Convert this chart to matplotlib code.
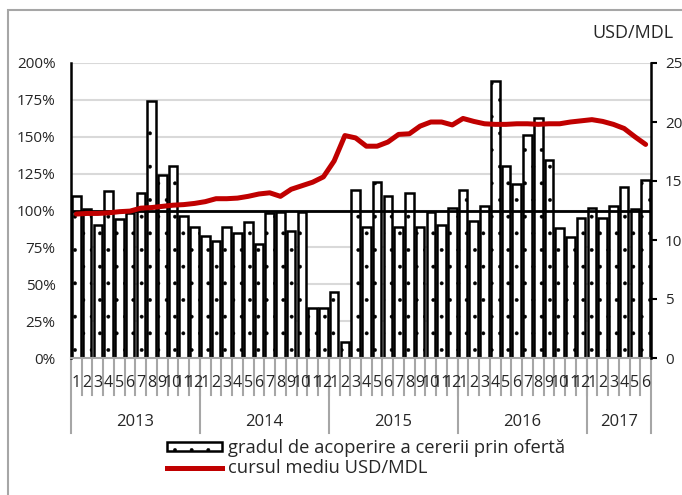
import matplotlib
matplotlib.use("Agg")
import matplotlib.pyplot as plt
from matplotlib.patches import Rectangle, Patch
from matplotlib.lines import Line2D

plt.rcParams['font.family'] = ['Open Sans', 'DejaVu Sans']
plt.rcParams['hatch.linewidth'] = 0.3

# gradul de acoperire a cererii prin oferta, % (lunar, ian 2013 - iun 2017)
coverage = [110, 101, 90, 113, 94, 98, 112, 174, 124, 130, 96, 89,
            83, 79, 89, 85, 92, 77, 98, 99, 86, 99, 34, 34,
            45, 11, 114, 89, 119, 110, 89, 112, 89, 99, 90, 102,
            114, 93, 103, 188, 130, 118, 151, 163, 134, 88, 82, 95,
            102, 95, 103, 116, 101, 121]

# cursul mediu USD/MDL
usd_mdl = [12.2, 12.25, 12.25, 12.3, 12.4, 12.45, 12.7, 12.75, 12.85, 12.95, 13.0, 13.1,
           13.25, 13.5, 13.5, 13.55, 13.7, 13.9, 14.0, 13.7, 14.3, 14.6, 14.9, 15.35,
           16.7, 18.85, 18.65, 17.95, 17.95, 18.3, 18.95, 19.0, 19.65, 20.0, 20.0, 19.75,
           20.3, 20.05, 19.85, 19.8, 19.8, 19.85, 19.85, 19.8, 19.85, 19.85, 20.0, 20.1,
           20.2, 20.05, 19.8, 19.45, 18.75, 18.1]

years = ['2013', '2014', '2015', '2016', '2017']
months_per_year = [12, 12, 12, 12, 6]
month_labels = [str(m) for n in months_per_year for m in range(1, n + 1)]

txt = '#262626'
grey = '#a6a6a6'
red = '#c00000'

fig = plt.figure(figsize=(6.82, 4.95), dpi=100)
ax = fig.add_axes([71 / 682, 1 - 358 / 495, 580 / 682, 295 / 495])

n = len(coverage)
x = [i + 0.5 for i in range(n)]

ax.set_axisbelow(True)
ax.yaxis.grid(True, color='#d9d9d9', lw=1.5)
ax.bar(x, coverage, width=0.8, color='white', edgecolor='black', lw=1.8,
       hatch='.', zorder=2)
ax.axhline(100, color='black', lw=2, zorder=3)

ax.set_xlim(0, n)
ax.set_ylim(0, 200)
ax.set_yticks(range(0, 201, 25))
ax.set_yticklabels([f'{v}%' for v in range(0, 201, 25)])
ax.tick_params(axis='y', length=0, pad=11, labelsize=11, labelcolor=txt)
ax.set_xticks([])
ax.spines['top'].set_visible(False)
ax.spines['right'].set_visible(False)
ax.spines['left'].set_linewidth(1.8)
ax.spines['bottom'].set_color(grey)
ax.spines['bottom'].set_linewidth(1.5)

# etichete luni / ani si separatori
tr = ax.get_xaxis_transform()
for i, lab in enumerate(month_labels):
    ax.text(x[i], -0.085, lab, transform=tr, ha='center', va='center',
            fontsize=11.5, color=txt)
for i in range(1, n):
    ax.plot([i, i], [0, -0.125], transform=tr, color=grey, lw=1.5, clip_on=False)
start = 0
for yr, k in zip(years, months_per_year):
    ax.plot([start, start], [0, -0.255], transform=tr, color=grey, lw=1.5, clip_on=False)
    ax.text(start + k / 2, -0.218, yr, transform=tr, ha='center', va='center',
            fontsize=12, color=txt)
    start += k
ax.plot([start, start], [0, -0.255], transform=tr, color=grey, lw=1.5, clip_on=False)

ax2 = ax.twinx()
ax2.plot(x, usd_mdl, color=red, lw=3.6, solid_capstyle='round', zorder=5)
ax2.set_ylim(0, 25)
ax2.set_yticks(range(0, 26, 5))
ax2.tick_params(axis='y', direction='out', length=4, width=1.5, pad=6,
                labelsize=11, labelcolor=txt)
for s in ['top', 'left', 'bottom']:
    ax2.spines[s].set_visible(False)
ax2.spines['right'].set_linewidth(1.8)

fig.text(592 / 682, 1 - 33 / 495, 'USD/MDL', fontsize=13, color=txt,
         ha='left', va='center')

handles = [Patch(facecolor='white', edgecolor='black', hatch='.', lw=1.8),
           Line2D([0], [0], color=red, lw=3.6)]
labels = ['gradul de acoperire a cererii prin ofertă', 'cursul mediu USD/MDL']
fig.legend(handles, labels, loc='upper left',
           bbox_to_anchor=(167 / 682, 1 - 439 / 495), frameon=False,
           fontsize=13.2, handlelength=3.0, handleheight=0.4, handletextpad=0.3,
           labelspacing=0.12, borderpad=0, borderaxespad=0, labelcolor=txt)

fig.patches.append(Rectangle((8 / 682, -0.05), 2, 1 - 10 / 495 + 0.05,
                             transform=fig.transFigure, fill=False,
                             edgecolor=grey, lw=1.5))

fig.savefig('out.png', dpi=100)
